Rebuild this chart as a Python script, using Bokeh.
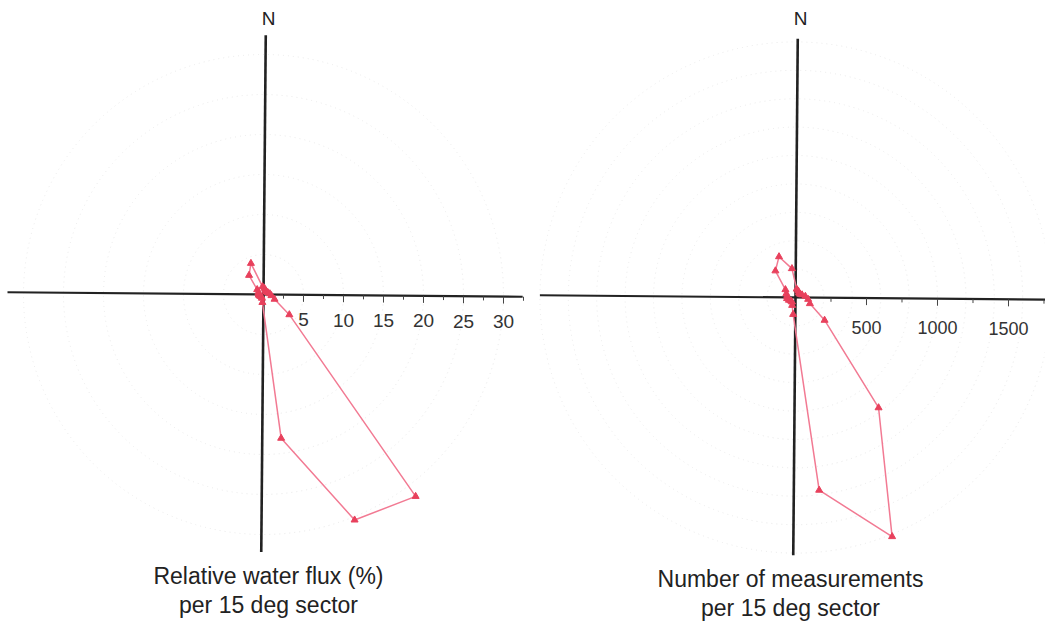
import numpy as np
from bokeh.plotting import figure
from bokeh.layouts import row
from bokeh.models import ColumnDataSource
from bokeh.core.properties import value
from bokeh.embed import file_html
from bokeh.resources import INLINE

# 15-degree sector centres (bearing, degrees clockwise from north)
sectors = [7.5 + 15 * k for k in range(24)]

# relative water flux per sector (%)
flux_pct = [0.8, 0.6, 0.5, 0.5, 0.6, 0.8, 1.0, 1.5, 4.1, 31.6, 30.4, 18.1,
            1.0, 0.5, 0.4, 0.4, 0.5, 0.6, 0.6, 0.7, 1.0, 3.0, 4.2, 1.0]

# number of measurements per sector
n_meas = [60, 50, 40, 40, 50, 70, 90, 110, 260, 972, 1816, 1367,
          120, 60, 40, 40, 50, 60, 60, 70, 90, 235, 310, 205]

left_ticks = [5, 10, 15, 20, 25, 30]
left_minor = [2.5, 7.5, 12.5, 17.5, 22.5, 27.5, 32.5]
left_rings = [5, 10, 15, 20, 25, 30]
right_ticks = [500, 1000, 1500]
right_minor = [250, 750, 1250, 1750]
right_rings = [200, 400, 600, 800, 1000, 1200, 1400, 1600, 1800]

SKEW = 0.5  # slight clockwise rotation of the whole rose
FONT = value("Liberation Sans")
LINE_COL = "#f27a93"
MARK_COL = "#e8405c"


def polar(r, bearing):
    th = np.radians(np.asarray(bearing, dtype=float) + SKEW)
    r = np.asarray(r, dtype=float)
    return r * np.sin(th), r * np.cos(th)


def make_rose(width, cx, cy, scale, values, ticks, minor, rings,
              arm, caption, tick_dy, tick_size, cap_x, cap_y, n_dx):
    H = 621
    p = figure(width=width, height=H, output_backend="svg", toolbar_location=None,
               x_range=(-cx / scale, (width - cx) / scale),
               y_range=(-(H - cy) / scale, cy / scale),
               min_border=0, outline_line_color=None,
               background_fill_color="white", border_fill_color="white")
    p.axis.visible = False
    p.grid.visible = False

    # faint range rings
    p.circle(x=[0] * len(rings), y=[0] * len(rings), radius=rings,
             fill_color=None, line_color="#e9e9e9", line_width=1, line_dash="1 4")

    # compass cross
    n, e, s, w = arm
    x0, y0 = polar([n, e], [0, 90])
    x1, y1 = polar([s, w], [180, 270])
    p.segment(x0=[x0[0]], y0=[y0[0]], x1=[x1[0]], y1=[y1[0]],
              line_color="#222222", line_width=2.6)
    p.segment(x0=[x1[1]], y0=[y1[1]], x1=[x0[1]], y1=[y0[1]],
              line_color="#222222", line_width=2.2)

    # ticks hanging below the east arm
    for vals, ln in ((ticks, 7), (minor, 4)):
        tx, ty = polar(vals, [90] * len(vals))
        p.segment(x0=tx, y0=ty, x1=tx, y1=ty - ln / scale,
                  line_color="#444444", line_width=1)
    lx, ly = polar(ticks, [90] * len(ticks))
    p.text(x=lx, y=ly - tick_dy / scale, text=[str(t) for t in ticks],
           text_font=FONT, text_font_size=tick_size, text_color="#333333",
           text_align="center", text_baseline="middle")

    # north label
    p.text(x=[n_dx / scale], y=[(cy - 18) / scale], text=["N"],
           text_font=FONT, text_font_size="19px", text_color="#222222",
           text_align="center", text_baseline="middle")

    # rose polygon
    xs, ys = polar(values, sectors)
    src = ColumnDataSource(dict(x=list(xs) + [xs[0]], y=list(ys) + [ys[0]]))
    p.line("x", "y", source=src, line_color=LINE_COL, line_width=1.5)
    p.scatter(x=xs, y=ys, marker="triangle", size=7,
              fill_color=MARK_COL, line_color=MARK_COL)

    # caption
    for i, line in enumerate(caption):
        p.text(x=[cap_x / scale], y=[-(cap_y + 29 * i - cy) / scale], text=[line],
               text_font=FONT, text_font_size="23px", text_color="#222222",
               text_align="center", text_baseline="middle")
    return p


left = make_rose(525, 263, 294, 8.0, flux_pct, left_ticks, left_minor, left_rings,
                 (32.4, 32.4, 32.2, 32.0),
                 ["Relative water flux (%)", "per 15 deg sector"], 25, "19px", 5, 575, 5)
right = make_rose(520, 270, 297, 0.142, n_meas, right_ticks, right_minor, right_rings,
                  (1823, 1760, 1816, 1800),
                  ["Number of measurements", "per 15 deg sector"], 29, "18px", -5, 578, 5)

layout = row(left, right)
open("out.html", "w").write(file_html(layout, INLINE))
